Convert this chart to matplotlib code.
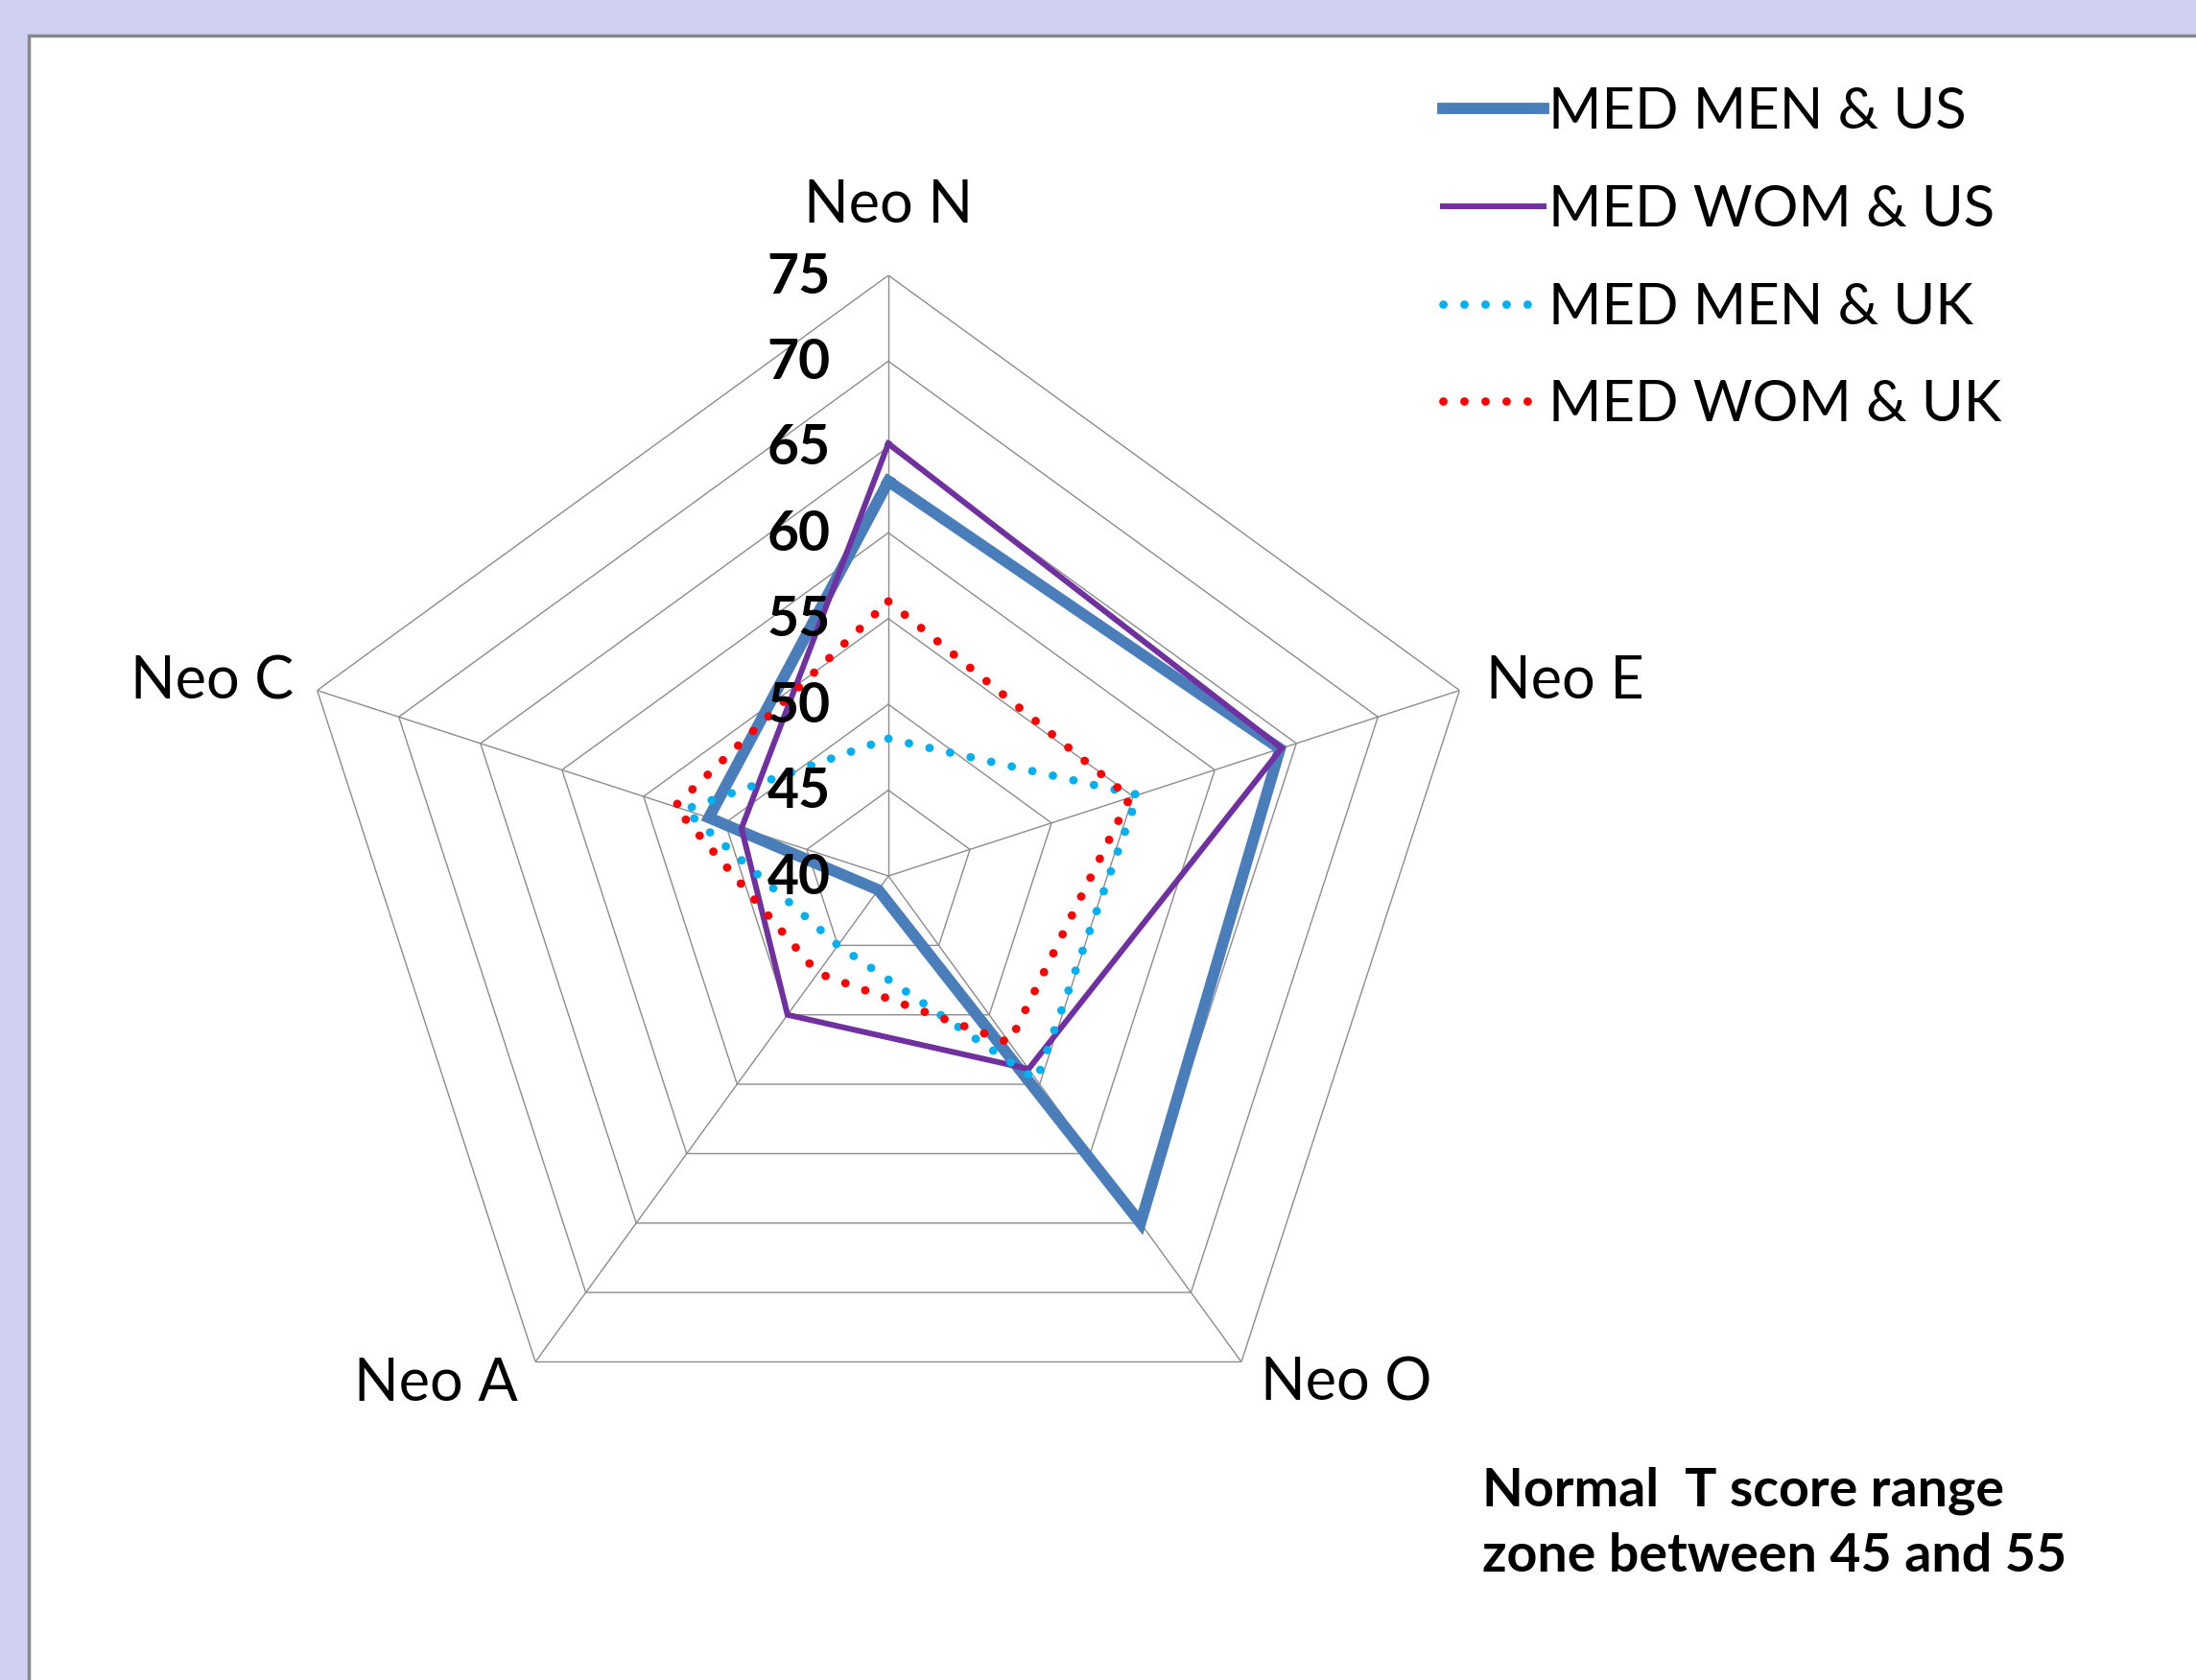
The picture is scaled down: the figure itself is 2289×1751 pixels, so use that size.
import numpy as np
import matplotlib
matplotlib.use("Agg")
import matplotlib.pyplot as plt
from matplotlib.patches import Rectangle

plt.rcParams['font.family'] = ['Lato', 'DejaVu Sans']

# data
categories = ["Neo N", "Neo E", "Neo O", "Neo A", "Neo C"]
med_men_us = [63.0, 64.0, 65.0, 41.0, 51.0]
med_wom_us = [65.2, 64.1, 53.9, 50.0, 49.0]
med_men_uk = [48.0, 55.3, 54.7, 45.0, 52.5]
med_wom_uk = [56.0, 54.8, 52.0, 47.0, 53.1]
levels = [40, 45, 50, 55, 60, 65, 70, 75]
note = "Normal  T score range\nzone between 45 and 55"

W, H = 2289, 1751
fig = plt.figure(figsize=(W / 100, H / 100), dpi=100)
fig.patch.set_facecolor("#D0D0F2")

# white panel with grey edge
fig.patches.append(Rectangle((30 / W, -0.01), 1.0, (H - 37) / H + 0.01,
                             transform=fig.transFigure, facecolor="white",
                             edgecolor="#888888", lw=2.5, zorder=-5))

cx, cy, R = 926, 913, 626
ax = fig.add_axes([(cx - R) / W, (H - cy - R) / H, 2 * R / W, 2 * R / H],
                  projection="polar")
ax.set_theta_offset(np.pi / 2)
ax.set_theta_direction(-1)
ax.set_ylim(levels[0], levels[-1])
ax.set_facecolor("none")
ax.grid(False)
ax.spines["polar"].set_visible(False)
ax.set_xticks([])
ax.set_yticks([])

angles = np.arange(len(categories)) * 2 * np.pi / len(categories)
closed = np.append(angles, angles[0])

# polygon grid and spokes
for lv in levels[1:]:
    ax.plot(closed, [lv] * len(closed), color="#8C8C8C", lw=1.0, zorder=1)
for a in angles:
    ax.plot([a, a], [levels[0], levels[-1]], color="#8C8C8C", lw=1.0, zorder=1)


def close(v):
    return np.append(v, v[0])


ax.plot(closed, close(med_men_us), color="#4A7EBB", lw=8.5,
        solid_joinstyle="miter", label="MED MEN & US", zorder=3)
ax.plot(closed, close(med_wom_us), color="#7030A0", lw=4.3,
        solid_joinstyle="miter", label="MED WOM & US", zorder=4)
ax.plot(closed, close(med_men_uk), color="#00B0F0", lw=6.3,
        linestyle=(0, (0.01, 2.5)), dash_capstyle="round",
        label="MED MEN & UK", zorder=5)
ax.plot(closed, close(med_wom_uk), color="#FF0000", lw=6.3,
        linestyle=(0, (0.01, 2.5)), dash_capstyle="round",
        label="MED WOM & UK", zorder=6)

# category labels
offsets = [(0, 73, "center", "center"), (28, 9, "left", "center"),
           (20, -23, "left", "center"), (-18, -23, "right", "center"),
           (-25, 9, "right", "center")]
for a, name, (dx, dy, ha, va) in zip(angles, categories, offsets):
    ax.annotate(name, (a, levels[-1]), xytext=(dx, dy),
                textcoords="offset pixels", ha=ha, va=va, fontsize=44,
                annotation_clip=False)

# value labels along the N spoke
for lv in levels:
    ax.annotate(str(lv), (0, lv), xytext=(-60, -2), textcoords="offset pixels",
                ha="right", va="center", fontsize=41, fontweight="bold",
                zorder=7, annotation_clip=False)

leg = ax.legend(loc="upper left", bbox_to_anchor=(1504 / W, 1 - 90 / H),
                bbox_transform=fig.transFigure, frameon=False, fontsize=43,
                handlelength=1.75, handletextpad=0.1, labelspacing=0.8,
                borderpad=0, borderaxespad=0)

fig.text(1545 / W, 1 - 1588 / H, note, fontsize=40, fontweight="bold",
         ha="left", va="center", linespacing=1.45)

fig.savefig("out.png", dpi=100)
